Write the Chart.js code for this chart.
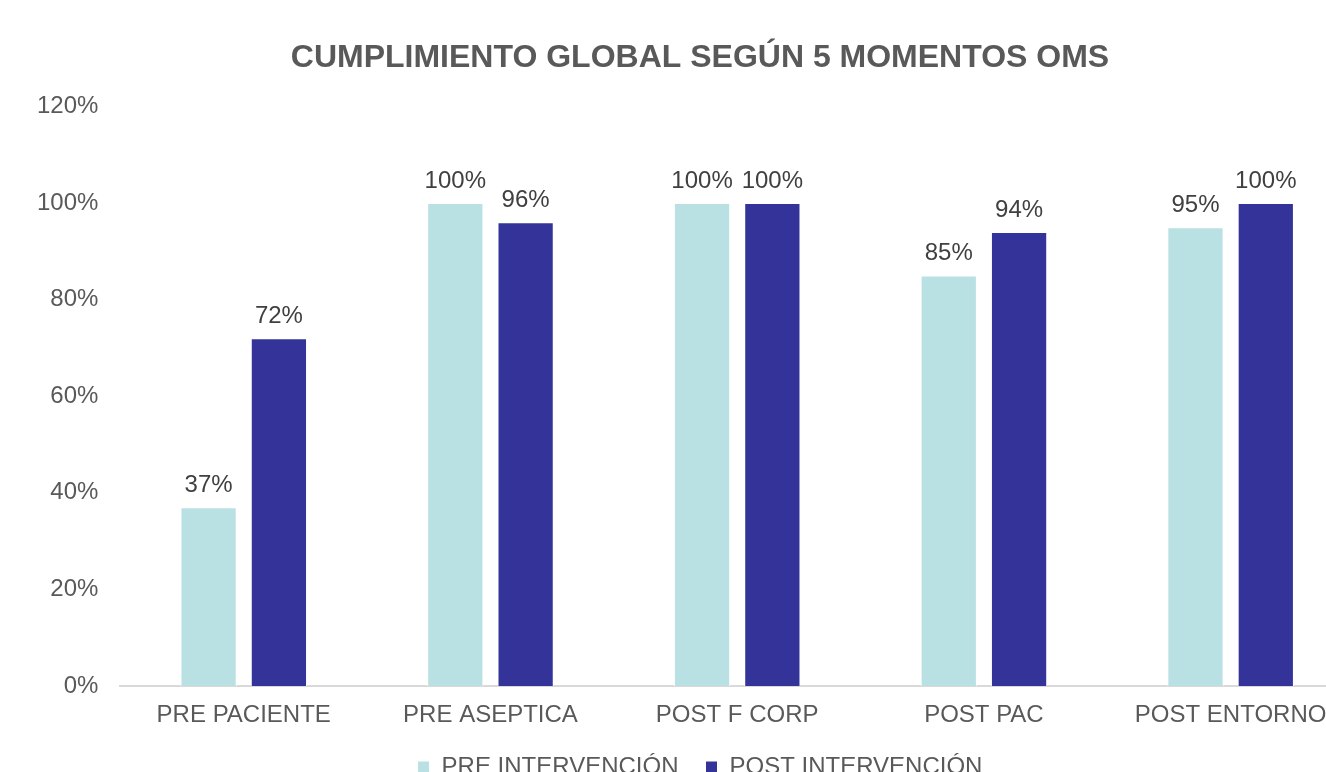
<!DOCTYPE html>
<html>
<head>
<meta charset="utf-8">
<script src="https://cdn.jsdelivr.net/npm/chart.js@4.4.0/dist/chart.umd.min.js"></script>
<style>
  html, body { margin: 0; padding: 0; background: #fff; overflow: hidden; }
  #wrap { width: 1400px; height: 790px; }
</style>
</head>
<body>
<div id="wrap"><canvas id="chart" width="1400" height="790"></canvas></div>
<script>
// datos del gráfico
const momentos = ["PRE PACIENTE", "PRE ASEPTICA", "POST F CORP", "POST PAC", "POST ENTORNO"];
const preIntervencion = [37, 100, 100, 85, 95];
const postIntervencion = [72, 96, 100, 94, 100];
const ticksY = [0, 20, 40, 60, 80, 100, 120];

const fuente = "'Liberation Sans', Arial, sans-serif";

// etiquetas de valor encima de cada barra
const etiquetasBarras = {
  id: "etiquetasBarras",
  afterLayout(chart) {
    // centrar título y leyenda sobre todo el lienzo
    [chart.titleBlock, chart.legend].forEach(function (box) {
      if (box) {
        box.left = 0;
        box.right = chart.width;
      }
    });
  },
  afterDatasetsDraw(chart) {
    const ctx = chart.ctx;
    ctx.save();
    ctx.font = "24px " + fuente;
    ctx.fillStyle = "#404040";
    ctx.textAlign = "center";
    ctx.textBaseline = "alphabetic";
    chart.data.datasets.forEach(function (ds, i) {
      chart.getDatasetMeta(i).data.forEach(function (bar, j) {
        ctx.fillText(ds.data[j] + "%", bar.x, bar.y - 15);
      });
    });
    ctx.restore();
  },
};

const ctx = document.getElementById("chart").getContext("2d");
new Chart(ctx, {
  type: "bar",
  data: {
    labels: momentos,
    datasets: [
      {
        label: "PRE INTERVENCIÓN",
        data: preIntervencion,
        backgroundColor: "#b9e0e3",
        borderColor: "#ffffff",
        borderWidth: 1,
        categoryPercentage: 0.57,
        barPercentage: 0.8,
      },
      {
        label: "POST INTERVENCIÓN",
        data: postIntervencion,
        backgroundColor: "#333399",
        borderColor: "#ffffff",
        borderWidth: 1,
        categoryPercentage: 0.57,
        barPercentage: 0.8,
      },
    ],
  },
  options: {
    responsive: false,
    animation: false,
    layout: {
      padding: { left: 15, right: 46, top: 0, bottom: 2 },
    },
    plugins: {
      title: {
        display: true,
        text: "CUMPLIMIENTO GLOBAL SEGÚN 5 MOMENTOS OMS",
        color: "#595959",
        font: { family: fuente, size: 32, weight: "bold" },
        padding: { top: 39, bottom: 29 },
      },
      legend: {
        position: "bottom",
        maxHeight: 60,
        labels: {
          color: "#595959",
          boxWidth: 12,
          boxHeight: 12,
          padding: 27,
          font: { family: fuente, size: 24 },
        },
      },
      tooltip: { enabled: false },
    },
    scales: {
      x: {
        grid: { display: false, drawTicks: false },
        border: { color: "#d9d9d9", width: 2 },
        afterFit(axis) {
          axis.height = 42;
        },
        ticks: {
          color: "#595959",
          padding: 15,
          font: { family: fuente, size: 24 },
        },
      },
      y: {
        min: 0,
        max: 120,
        grid: { display: false, drawTicks: false },
        border: { display: false },
        afterBuildTicks(axis) {
          axis.ticks = ticksY.map(function (v) { return { value: v }; });
        },
        ticks: {
          color: "#595959",
          padding: 22,
          callback: function (v) { return v + "%"; },
          font: { family: fuente, size: 24 },
        },
      },
    },
  },
  plugins: [etiquetasBarras],
});
</script>
</body>
</html>
